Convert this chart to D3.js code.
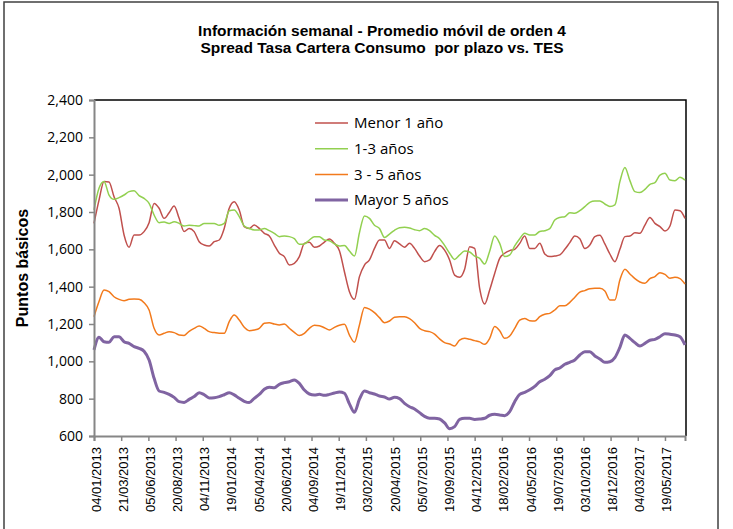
<!DOCTYPE html>
<html>
<head>
<meta charset="utf-8">
<script src="https://cdn.jsdelivr.net/npm/d3@7"></script>
<style>
body { margin: 0; background: #fff; }
</style>
</head>
<body>
<script>
// Weekly series, read every second week starting on startDate
var startDate = "04/01/2013";
var stepDays = 14;

var menor1 = [1739,1864,1964,1961,1882,1820,1677,1611,1677,1677,1695,1743,1846,1820,1766,1796,1832,1766,1695,1712,
    1695,1641,1623,1618,1641,1650,1712,1820,1855,1811,1722,1712,1730,1712,1686,1671,1623,1579,1561,1516,
    1525,1561,1632,1638,1611,1618,1639,1655,1632,1593,1480,1373,1332,1454,1516,1543,1605,1650,1650,1605,
    1646,1629,1611,1632,1605,1564,1534,1543,1588,1621,1596,1543,1462,1450,1493,1614,1605,1391,1307,1382,
    1471,1552,1579,1593,1600,1632,1671,1605,1605,1632,1575,1561,1564,1570,1600,1636,1671,1657,1604,1623,
    1668,1675,1629,1575,1534,1600,1668,1671,1689,1686,1730,1771,1739,1722,1698,1725,1811,1807,1766];

var de1a3 = [1811,1927,1963,1891,1868,1877,1891,1909,1914,1888,1873,1846,1784,1743,1746,1739,1748,1739,1725,1729,
    1727,1725,1739,1739,1739,1729,1739,1807,1811,1775,1725,1712,1704,1704,1712,1700,1686,1668,1671,1668,
    1657,1627,1629,1650,1668,1668,1650,1646,1629,1618,1620,1591,1564,1689,1779,1766,1729,1712,1664,1682,
    1702,1716,1718,1714,1705,1700,1711,1700,1675,1657,1621,1579,1546,1570,1591,1586,1564,1552,1521,1590,
    1671,1632,1561,1570,1618,1657,1686,1677,1677,1696,1700,1711,1757,1771,1775,1796,1793,1807,1829,1852,
    1859,1859,1843,1829,1838,1963,2039,1968,1909,1904,1921,1948,1957,1998,2007,1971,1968,1986,1971];

var de3a5 = [1239,1320,1382,1373,1346,1332,1325,1332,1334,1332,1314,1275,1177,1141,1150,1159,1154,1141,1139,1161,
    1177,1189,1177,1159,1154,1150,1150,1213,1248,1221,1182,1164,1168,1177,1204,1207,1200,1195,1200,1177,
    1155,1138,1150,1177,1193,1191,1180,1168,1182,1193,1198,1141,1102,1195,1289,1280,1261,1234,1207,1216,
    1236,1239,1239,1229,1207,1177,1164,1159,1146,1120,1100,1093,1082,1114,1123,1118,1111,1104,1091,1123,
    1186,1164,1123,1136,1177,1221,1230,1218,1216,1239,1252,1257,1275,1298,1298,1316,1343,1371,1379,1389,
    1391,1391,1377,1329,1329,1436,1493,1468,1443,1425,1418,1443,1454,1475,1466,1445,1450,1443,1414];

var mayor5 = [1061,1129,1105,1102,1132,1132,1105,1096,1079,1070,1054,1007,909,841,834,823,807,784,780,796,
    811,832,821,804,805,811,821,832,820,802,786,779,802,823,850,861,859,877,886,891,
    900,882,846,825,820,823,818,823,830,836,829,772,727,797,841,832,825,814,809,798,
    807,800,775,757,745,725,705,695,695,691,670,639,650,689,695,695,689,691,695,711,
    716,713,709,730,784,823,834,848,866,891,904,923,954,964,984,995,1007,1034,1052,1052,
    1029,1013,995,998,1020,1075,1141,1123,1100,1082,1096,1113,1118,1132,1148,1145,1141,1132,1088];

var seriesNames = ["Menor 1 año", "1-3 años", "3 - 5 años", "Mayor 5 años"];

var xTickLabels = ["04/01/2013", "21/03/2013", "05/06/2013", "20/08/2013", "04/11/2013", "19/01/2014",
    "05/04/2014", "20/06/2014", "04/09/2014", "19/11/2014", "03/02/2015", "20/04/2015", "05/07/2015",
    "19/09/2015", "04/12/2015", "18/02/2016", "04/05/2016", "19/07/2016", "03/10/2016", "18/12/2016",
    "04/03/2017", "19/05/2017"];

var yTicks = [600, 800, 1000, 1200, 1400, 1600, 1800, 2000, 2200, 2400];

var red = "#c0504d";
var green = "#92d050";
var orange = "#f27a1c";
var purple = "#8064a2";

var width = 733, height = 529;
var plotLeft = 94, plotRight = 685, plotTop = 100, plotBottom = 436;

var svg = d3.select("body").append("svg")
    .attr("width", width)
    .attr("height", height);

var parseDate = d3.timeParse("%d/%m/%Y");
var formatDate = d3.timeFormat("%d/%m/%Y");
var t0 = parseDate(startDate);
var dates = menor1.map(function(d, i) { return d3.timeDay.offset(t0, i * stepDays); });

var x = d3.scaleTime()
    .domain([dates[0], dates[dates.length - 1]])
    .range([plotLeft, plotRight]);

var y = d3.scaleLinear()
    .domain([600, 2400])
    .range([plotBottom, plotTop]);

// outer frame
svg.append("rect")
    .attr("x", 4).attr("y", 2)
    .attr("width", 714).attr("height", 560)
    .style("fill", "none")
    .style("stroke", "#404040")
    .style("stroke-width", 1.5);

// plot border (top / right)
svg.append("path")
    .attr("d", "M" + plotLeft + "," + plotTop + "H" + (plotRight + 1) + "V" + plotBottom)
    .style("fill", "none")
    .style("stroke", "#000")
    .style("stroke-width", 1.5);

// title
var title = svg.append("text")
    .attr("text-anchor", "middle")
    .style("font-family", "'Liberation Sans', Arial, sans-serif")
    .style("font-weight", "bold")
    .style("font-size", "15.5px")
    .style("white-space", "pre");
title.append("tspan").attr("x", 382).attr("y", 36).text("Información semanal - Promedio móvil de orden 4");
title.append("tspan").attr("x", 382).attr("y", 53).text("Spread Tasa Cartera Consumo  por plazo vs. TES");

// series lines
var series = [
    { name: seriesNames[0], values: menor1, color: red, w: 1.5 },
    { name: seriesNames[1], values: de1a3, color: green, w: 1.5 },
    { name: seriesNames[2], values: de3a5, color: orange, w: 1.5 },
    { name: seriesNames[3], values: mayor5, color: purple, w: 3 }
];

var line = d3.line()
    .x(function(d, i) { return x(dates[i]); })
    .y(function(d) { return y(d); })
    .curve(d3.curveMonotoneX);

series.forEach(function(s) {
    svg.append("path")
        .attr("d", line(s.values))
        .style("fill", "none")
        .style("stroke", s.color)
        .style("stroke-width", s.w)
        .style("stroke-linejoin", "round");
});

// y axis
var yAxis = svg.append("g")
    .attr("transform", "translate(" + plotLeft + ",0)")
    .call(d3.axisLeft(y).tickValues(yTicks).tickFormat(d3.format(",")).tickSize(5).tickPadding(6));
yAxis.select(".domain").style("stroke", "#868686").style("stroke-width", 2);
yAxis.selectAll(".tick line").style("stroke", "#868686").style("stroke-width", 1.5);
yAxis.selectAll(".tick text")
    .style("font-family", "'Open Sans', sans-serif")
    .style("font-size", "14px")
    .style("fill", "#000");

// x axis
var xAxis = svg.append("g")
    .attr("transform", "translate(0," + plotBottom + ")")
    .call(d3.axisBottom(x).tickValues(xTickLabels.map(parseDate)).tickFormat(formatDate).tickSize(5));
xAxis.select(".domain").style("stroke", "#868686").style("stroke-width", 2);
xAxis.selectAll(".tick line").style("stroke", "#868686").style("stroke-width", 1.5);
xAxis.selectAll(".tick text")
    .attr("transform", "rotate(-90)")
    .attr("text-anchor", "end")
    .attr("x", -11)
    .attr("y", 6)
    .attr("dy", 0)
    .style("font-family", "'Liberation Sans', Arial, sans-serif")
    .style("font-size", "13px")
    .style("fill", "#000");

// y axis title
svg.append("text")
    .attr("transform", "translate(22," + ((plotTop + plotBottom) / 2) + ") rotate(-90)")
    .attr("text-anchor", "middle")
    .attr("dy", "0.35em")
    .style("font-family", "'Liberation Sans', Arial, sans-serif")
    .style("font-weight", "bold")
    .style("font-size", "16px")
    .text("Puntos básicos");

// legend
var legend = svg.append("g").attr("transform", "translate(315,123)");
series.forEach(function(s, i) {
    legend.append("line")
        .attr("x1", 0).attr("x2", 33)
        .attr("y1", i * 25.7).attr("y2", i * 25.7)
        .style("stroke", s.color)
        .style("stroke-width", s.w);
    legend.append("text")
        .attr("x", 39)
        .attr("y", i * 25.7)
        .attr("dy", "0.35em")
        .style("font-family", "'Open Sans', sans-serif")
        .style("font-size", "15px")
        .text(s.name);
});
</script>
</body>
</html>
